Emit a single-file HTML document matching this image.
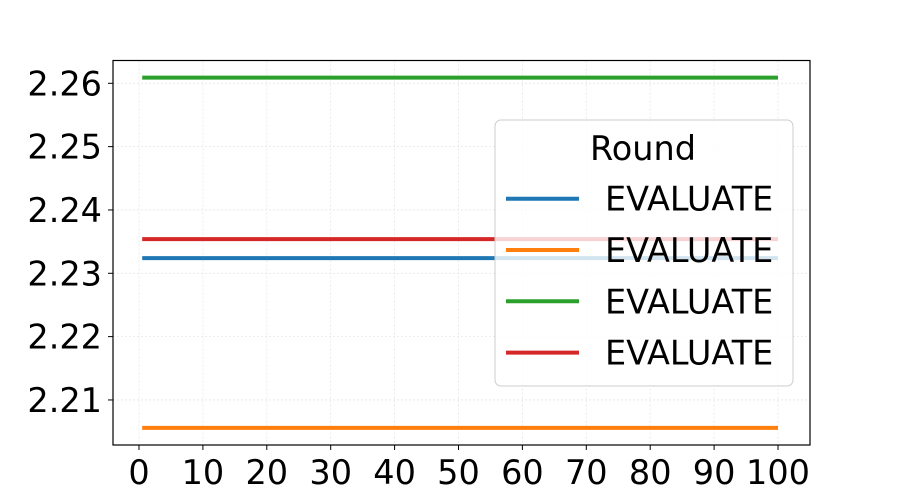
<!DOCTYPE html>
<html><head><meta charset="utf-8"><style>
html,body{margin:0;padding:0;background:#fff;}
svg{display:block;font-family:"DejaVu Sans","Liberation Sans",sans-serif;}
</style></head><body>
<svg id="chart" width="900" height="500" viewBox="0 0 900 500">
<rect x="0" y="0" width="900" height="500" fill="#fff"/>
<g id="grid"></g>
<g id="series"></g>
<rect x="113" y="60.5" width="697" height="384.5" fill="none" stroke="#000" stroke-width="1.2"/>
<g id="xticks"></g>
<g id="yticks"></g>
<g id="legend">
<rect x="495" y="120" width="298" height="266" rx="6" fill="#fff" fill-opacity="0.8" stroke="#ccc" stroke-width="1"/>
<text x="643" y="160" font-size="33.5" text-anchor="middle">Round</text>
</g>
</svg>
<script>
const xTicks=[0,10,20,30,40,50,60,70,80,90,100];
const yTicks=[2.21,2.22,2.23,2.24,2.25,2.26];
const seriesNames=["EVALUATE","EVALUATE","EVALUATE","EVALUATE"];
const seriesColors=["#1f77b4","#ff7f0e","#2ca02c","#d62728"];
const seriesValues=[2.2324,2.2056,2.2609,2.2354];
const xStart=0.5, xEnd=100;
const NS="http://www.w3.org/2000/svg";
function xs(v){return 139+v*6.39;}
function ys(v){return 83.3+(2.26-v)*6333;}
function mk(tag,attrs,parent){const e=document.createElementNS(NS,tag);for(const k in attrs)e.setAttribute(k,attrs[k]);parent.appendChild(e);return e;}
const grid=document.getElementById('grid'),xt=document.getElementById('xticks'),yt=document.getElementById('yticks'),ser=document.getElementById('series'),leg=document.getElementById('legend');
xTicks.forEach(t=>{
 const g=mk('line',{x1:xs(t),x2:xs(t),y1:60.5,y2:445,stroke:'#e6e6e6','stroke-width':0.8,'stroke-dasharray':'2,2'},grid);
 
 
 const tk=mk('line',{x1:xs(t),x2:xs(t),y1:445,y2:450,stroke:'#000','stroke-width':1},xt);
 
 
 const tx=mk('text',{x:xs(t),y:484,'font-size':33.5,'text-anchor':'middle'},xt);
 tx.textContent=t;
 
 
});
yTicks.forEach(t=>{
 const g=mk('line',{x1:113,x2:810,y1:ys(t),y2:ys(t),stroke:'#e6e6e6','stroke-width':0.8,'stroke-dasharray':'2,2'},grid);
 
 
 const tk=mk('line',{x1:108,x2:113,y1:ys(t),y2:ys(t),stroke:'#000','stroke-width':1},yt);
 
 
 const tx=mk('text',{x:102,y:ys(t)+12,'font-size':33.5,'text-anchor':'end'},yt);
 tx.textContent=t.toFixed(2);
 
 
});
seriesValues.forEach((v,i)=>{
 const l=mk('line',{x1:xs(xStart),x2:xs(xEnd),y1:ys(v),y2:ys(v),stroke:seriesColors[i],'stroke-width':4},ser);
 
 
 const ly=198.7+i*51.3;
 const ll=mk('line',{x1:506,x2:579,y1:ly,y2:ly,stroke:seriesColors[i],'stroke-width':4},leg);
 
 
 const lt=mk('text',{x:605,y:ly+12,'font-size':33.5},leg);
 lt.textContent=seriesNames[i];
 
 
});
</script>
</body></html>
